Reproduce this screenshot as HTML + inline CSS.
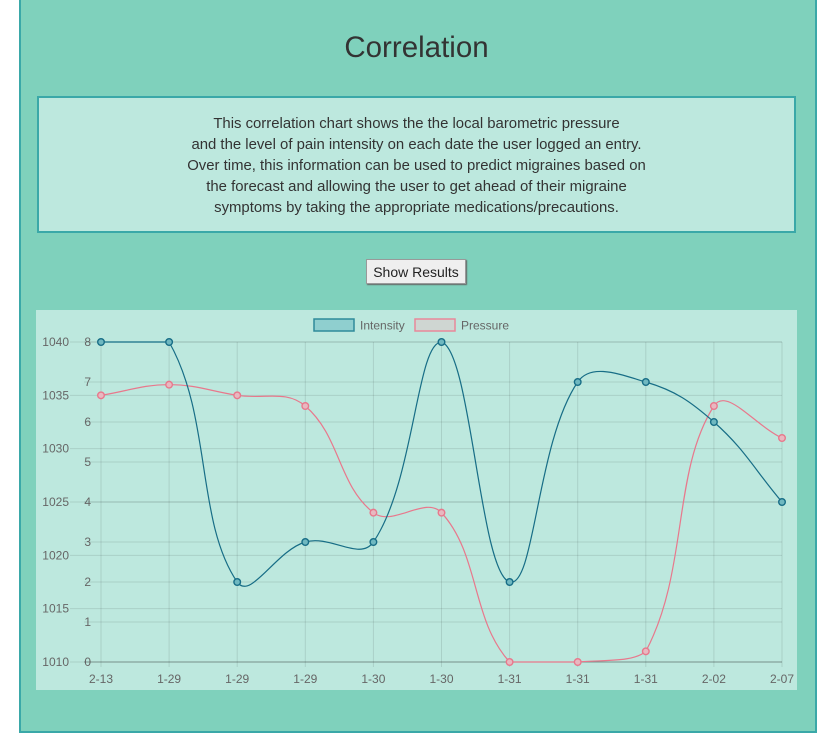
<!DOCTYPE html>
<html><head><meta charset="utf-8"><style>
body{margin:0;width:833px;height:747px;background:#fff;font-family:"Liberation Sans",Arial,sans-serif;position:relative;overflow:hidden}
#panel{position:absolute;left:19px;top:-2px;width:794px;height:731px;background:#7fd1bc;border:2px solid #3aa8a8}
#title{position:absolute;left:0;width:833px;top:31px;text-align:center;font-size:29.5px;color:#333}
#desc{position:absolute;left:37px;top:96px;background:#bde8de;border:2px solid #3aa8a8;text-align:center;font-size:14.9px;line-height:21px;color:#333;padding-top:16px;box-sizing:border-box;height:137px;width:759px}
#btn{position:absolute;left:366px;top:259px;width:100px;height:25px;background:#efefef;border:1px solid #999;box-shadow:1px 1px 1px #666;font-size:14px;color:#222;text-align:center;line-height:24px;box-sizing:border-box}
#chart{position:absolute;left:36px;top:310px;width:761px;height:380px;background:#bde8de}
</style></head><body>
<div id="panel"></div>
<div id="title">Correlation</div>
<div id="desc">This correlation chart shows the the local barometric pressure<br>and the level of pain intensity on each date the user logged an entry.<br>Over time, this information can be used to predict migraines based on<br>the forecast and allowing the user to get ahead of their migraine<br>symptoms by taking the appropriate medications/precautions.</div>
<div id="btn">Show Results</div>
<svg id="chart" width="761" height="380" viewBox="36 310 761 380"></svg>
<script>
const categories=["2-13","1-29","1-29","1-29","1-30","1-30","1-31","1-31","1-31","2-02","2-07"];
const intensity=[8,8,2,3,3,8,2,7,7,6,4];
const pressure=[1035,1036,1035,1034,1024,1024,1010,1010,1011,1034,1031];
const intensityTicks=[0,1,2,3,4,5,6,7,8];
const pressureTicks=[1010,1015,1020,1025,1030,1035,1040];
const NS="http://www.w3.org/2000/svg";
const svg=document.getElementById('chart');
const X0=101,X1=782,Y0=662,Y1=342;
function xs(i){return X0+(X1-X0)*i/(categories.length-1);}
function yI(v){return Y0-(Y0-Y1)*v/8;}
function yP(v){return Y0-(Y0-Y1)*(v-1010)/30;}
function el(t,a,txt){const e=document.createElementNS(NS,t);for(const k in a)e.setAttribute(k,a[k]);if(txt!=null)e.textContent=txt;svg.appendChild(e);return e;}
categories.forEach((c,i)=>{
 const g=el('line',{x1:xs(i),x2:xs(i),y1:Y1,y2:Y0+5,stroke:'rgba(0,0,0,0.1)'});
 
 
 const t=el('text',{x:xs(i),y:683,'text-anchor':'middle','font-size':12,fill:'#666'},c);
 
 
});
intensityTicks.forEach(v=>{
 const g=el('line',{x1:84,x2:X1,y1:yI(v),y2:yI(v),stroke:v==0?'rgba(0,0,0,0.3)':'rgba(0,0,0,0.1)'});
 
 
 const t=el('text',{x:91,y:yI(v)+4,'text-anchor':'end','font-size':12,fill:'#666'},v);
 
 
});
pressureTicks.forEach(v=>{
 const g=el('line',{x1:70,x2:X1,y1:yP(v),y2:yP(v),stroke:'rgba(0,0,0,0.1)'});
 
 
 const t=el('text',{x:69,y:yP(v)+4,'text-anchor':'end','font-size':12,fill:'#666'},v);
 
 
});
function clampY(p){return [Math.min(X1,Math.max(X0,p[0])),Math.min(Y0,Math.max(Y1,p[1]))];}
function path(pts){
 const T=0.4;let d='M'+pts[0][0]+','+pts[0][1];
 const cp=pts.map((p,i)=>{
  const a=pts[Math.max(0,i-1)],c=pts[Math.min(pts.length-1,i+1)];
  const d01=Math.hypot(p[0]-a[0],p[1]-a[1]),d12=Math.hypot(c[0]-p[0],c[1]-p[1]);
  let fa=d01/(d01+d12)||0,fb=d12/(d01+d12)||0;
  fa*=T;fb*=T;
  return {p:clampY([p[0]-fa*(c[0]-a[0]),p[1]-fa*(c[1]-a[1])]),n:clampY([p[0]+fb*(c[0]-a[0]),p[1]+fb*(c[1]-a[1])])};
 });
 for(let i=1;i<pts.length;i++){d+=' C'+cp[i-1].n+' '+cp[i].p+' '+pts[i];}
 return d;
}
function series(vals,yf,col,fill,name){
 const pts=vals.map((v,i)=>[xs(i),yf(v)]);
 const l=el('path',{d:path(pts),fill:'none',stroke:col,'stroke-width':1.2});
 
 
 pts.forEach(p=>{const c=el('circle',{cx:p[0],cy:p[1],r:3.3,fill:fill,stroke:col,'stroke-width':1.4});
 
 });
}
series(pressure,yP,'#e8788c','#e8b8c0','pressure');
series(intensity,yI,'#176d86','#6fb8c0','intensity');
let r=el('rect',{x:314,y:319,width:40,height:12,fill:'#8fcfcf',stroke:'#2f8a9a','stroke-width':1.5});

let t=el('text',{x:360,y:329.5,'font-size':12,fill:'#666'},'Intensity');

r=el('rect',{x:415,y:319,width:40,height:12,fill:'#cfd6d2',stroke:'#e8889a','stroke-width':1.5});

t=el('text',{x:461,y:329.5,'font-size':12,fill:'#666'},'Pressure');

</script>
</body></html>
